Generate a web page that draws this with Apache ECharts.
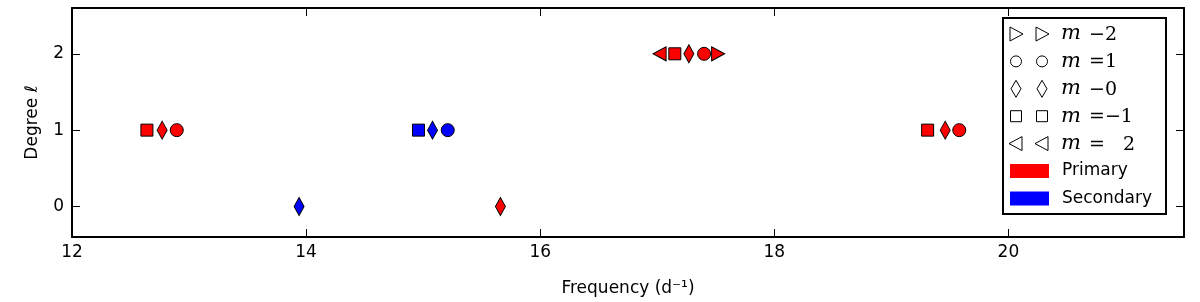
<!DOCTYPE html>
<html>
<head>
<meta charset="utf-8">
<script src="https://cdn.jsdelivr.net/npm/echarts@6/dist/echarts.min.js"></script>
<style>html,body{margin:0;padding:0;background:#fff}#c{width:1200px;height:302px}</style>
</head>
<body>
<div id="c"></div>
<script>
// ---- data: [frequency (d^-1), degree l] ----
const primary_m2  = [[17.52, 2]];
const primary_m1  = [[12.895, 1], [17.40, 2], [19.58, 1]];
const primary_m0  = [[15.66, 0], [12.77, 1], [17.27, 2], [19.46, 1]];
const primary_mm1 = [[12.64, 1], [17.15, 2], [19.31, 1]];
const primary_mm2 = [[17.02, 2]];
const secondary_m1  = [[15.21, 1]];
const secondary_m0  = [[13.94, 0], [15.08, 1]];
const secondary_mm1 = [[14.96, 1]];

const xTicks = [12, 14, 16, 18, 20];
const yTicks = [0, 1, 2];
const legendMLabels = ['\u2212' + '2', '=1', '\u2212' + '0', '=\u22121', '=   2'];
const legendColorLabels = ['Primary', 'Secondary'];

const RED = '#ff0000', BLUE = '#0000ff';
const FONT = 'DejaVu Sans';

const shapes = {
  m2:  {symbol: 'triangle', size: [14, 13], rotate: -90},
  m1:  {symbol: 'circle', size: 13, rotate: 0},
  m0:  {symbol: 'diamond', size: [10, 18], rotate: 0},
  mm1: {symbol: 'rect', size: 12, rotate: 0},
  mm2: {symbol: 'triangle', size: [14, 13], rotate: 90}
};

function sc(data, key, color) {
  const s = shapes[key];
  return {
    type: 'scatter', data: data, symbol: s.symbol, symbolSize: s.size, symbolRotate: s.rotate,
    itemStyle: {color: color, borderColor: '#000', borderWidth: 1, opacity: 1},
    emphasis: {disabled: true}, silent: true, z: 5
  };
}

const series = [
  sc(primary_m2, 'm2', RED), sc(primary_m1, 'm1', RED), sc(primary_m0, 'm0', RED),
  sc(primary_mm1, 'mm1', RED), sc(primary_mm2, 'mm2', RED),
  sc(secondary_m1, 'm1', BLUE), sc(secondary_m0, 'm0', BLUE), sc(secondary_mm1, 'mm1', BLUE)
];

const axisLine = {show: true, onZero: false, lineStyle: {color: '#000', width: 2}};
const tick = (vals) => ({show: true, inside: true, length: 8, customValues: vals, lineStyle: {color: '#000', width: 1}});

// legend drawn with graphic elements
const LX = 1003, LY = 18, LW = 163, LH = 196;
const rowY0 = 34, rowStep = 27.4;
const legendKeys = ['m2', 'm1', 'm0', 'mm1', 'mm2'];
const gEls = [{
  type: 'rect', shape: {x: LX, y: LY, width: LW, height: LH},
  style: {fill: '#fff', stroke: '#000', lineWidth: 2}, z: 10
}];
const symbolPaths = {
  m2: (cx, cy) => ({type: 'polygon', shape: {points: [[cx - 6, cy - 7], [cx - 6, cy + 7], [cx + 7, cy]]}}),
  mm2: (cx, cy) => ({type: 'polygon', shape: {points: [[cx + 6, cy - 7], [cx + 6, cy + 7], [cx - 7, cy]]}}),
  m1: (cx, cy) => ({type: 'circle', shape: {cx: cx, cy: cy, r: 5.5}}),
  m0: (cx, cy) => ({type: 'polygon', shape: {points: [[cx, cy - 8.5], [cx + 5, cy], [cx, cy + 8.5], [cx - 5, cy]]}}),
  mm1: (cx, cy) => ({type: 'rect', shape: {x: cx - 5.5, y: cy - 5.5, width: 11, height: 11}})
};
legendKeys.forEach((k, i) => {
  const cy = rowY0 + i * rowStep;
  [1016, 1042].forEach(cx => {
    const el = symbolPaths[k](cx, cy);
    el.style = {fill: '#fff', stroke: '#000', lineWidth: 1};
    el.z = 11;
    gEls.push(el);
  });
  gEls.push({type: 'text', x: 1061, y: cy, z: 11,
    style: {text: 'm', font: 'italic 21px "DejaVu Serif"', fill: '#000', verticalAlign: 'middle'}});
  gEls.push({type: 'text', x: 1089, y: cy + 1, z: 11,
    style: {text: legendMLabels[i], font: '19px "DejaVu Serif"', fill: '#000', verticalAlign: 'middle'}});
});
[RED, BLUE].forEach((c, j) => {
  const cy = rowY0 + (5 + j) * rowStep;
  gEls.push({type: 'rect', shape: {x: 1010, y: cy - 7, width: 39, height: 14}, style: {fill: c}, z: 11});
  gEls.push({type: 'text', x: 1062, y: cy, z: 11,
    style: {text: legendColorLabels[j], font: '17px "DejaVu Sans"', fill: '#000', verticalAlign: 'middle'}});
});

const chart = echarts.init(document.getElementById('c'), null, {renderer: 'canvas'});
chart.setOption({
  animation: false,
  backgroundColor: '#fff',
  grid: {left: 72, right: 16, top: 8, bottom: 62, containLabel: false},
  xAxis: [{
    type: 'value', min: 12, max: 21.5, position: 'bottom',
    name: 'Frequency (d\u207B\u00B9)', nameLocation: 'middle', nameGap: 43,
    nameTextStyle: {fontFamily: FONT, fontSize: 17, color: '#000'},
    axisLine: axisLine, axisTick: tick(xTicks),
    axisLabel: {customValues: xTicks, fontFamily: FONT, fontSize: 17, color: '#000', margin: 7},
    splitLine: {show: false}
  }, {
    type: 'value', min: 12, max: 21.5, position: 'top',
    axisLine: axisLine, axisTick: tick(xTicks), axisLabel: {show: false}, splitLine: {show: false}
  }],
  yAxis: [{
    type: 'value', min: -0.4, max: 2.6, position: 'left',
    name: 'Degree \u2113', nameLocation: 'middle', nameGap: 31, nameRotate: 90,
    nameTextStyle: {fontFamily: FONT, fontSize: 17, color: '#000'},
    axisLine: axisLine, axisTick: tick(yTicks),
    axisLabel: {customValues: yTicks, fontFamily: FONT, fontSize: 17, color: '#000', margin: 8},
    splitLine: {show: false}
  }, {
    type: 'value', min: -0.4, max: 2.6, position: 'right',
    axisLine: axisLine, axisTick: tick(yTicks), axisLabel: {show: false}, splitLine: {show: false}
  }],
  series: series,
  graphic: {elements: gEls}
});
</script>
</body>
</html>
